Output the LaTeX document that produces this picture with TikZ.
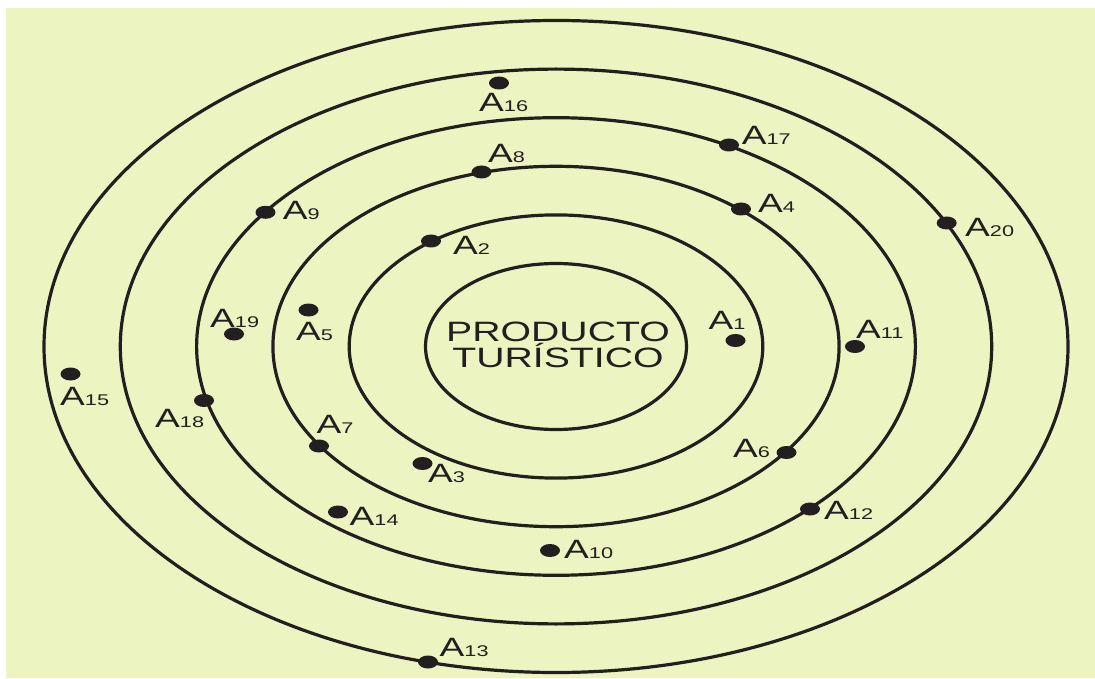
\documentclass[tikz,border=0pt]{standalone}
\usepackage{fontspec}
\newfontfamily\widesans[FakeStretch=1.4]{Liberation Sans}
\definecolor{bgcolor}{RGB}{236,244,193}
\definecolor{inkcolor}{RGB}{35,31,32}
\usepackage{tikz}
\usetikzlibrary{shapes.geometric}

\newcommand{\aname}[1]{A{\fontsize{15.5}{16}\selectfont #1}}

\begin{document}
\begin{tikzpicture}[x=1pt, y=-1pt,
        ring/.style={draw=inkcolor, line width=3.2pt},
        dot/.style={ellipse, fill=inkcolor, inner sep=0pt,
                    minimum width=20pt, minimum height=13pt},
        lbl/.style={anchor=base west, inner sep=0pt, text=inkcolor,
                    font=\widesans\fontsize{26.5}{28}\selectfont},
        core/.style={align=center, inner sep=0pt, text=inkcolor,
                     font=\widesans\fontsize{28}{26.6}\selectfont}
      ]
        \useasboundingbox (0,0) rectangle (1095,679);
        \fill[bgcolor] (6,8) rectangle (1095,678);
        % concentric rings
        \foreach \i in {0,...,5}
          \draw[ring] (556,346.5) ellipse [x radius=130.5+76.3*\i, y radius=83+48.6*\i];
        \node[core] (prod) at (558,345) {PRODUCTO\\TURÍSTICO};
        % dots and labels
        \foreach \n/\x/\y/\lx/\ly in {
            1/735.5/340.5/708.5/329.5,
            2/431/241/453/254.5,
            3/422.5/463.5/428/482.5,
            4/741/209/758/213,
            5/308.5/310/296/340,
            6/786.5/452.5/733/457,
            7/319/446/316.5/433.5,
            8/481.5/172/488/163,
            9/265.5/212.3/282.7/220,
            10/550/550.5/564/558.5,
            11/855/346.5/856/338.5,
            12/810/509/824/519.5,
            13/428/662/439.5/656.7,
            14/338/512/349.5/525.7,
            15/70.5/374/60/405.5,
            16/499/83/479/111.7,
            17/729/145/741.7/145,
            18/204/400.5/155/427.5,
            19/234/334/210/327.3,
            20/946.7/223/965/236.7}
        {
          \node[dot] (a\n) at (\x,\y) {};
          \node[lbl] (l\n) at (\lx,\ly) {\aname{\n}};
        }
\end{tikzpicture}
\end{document}
